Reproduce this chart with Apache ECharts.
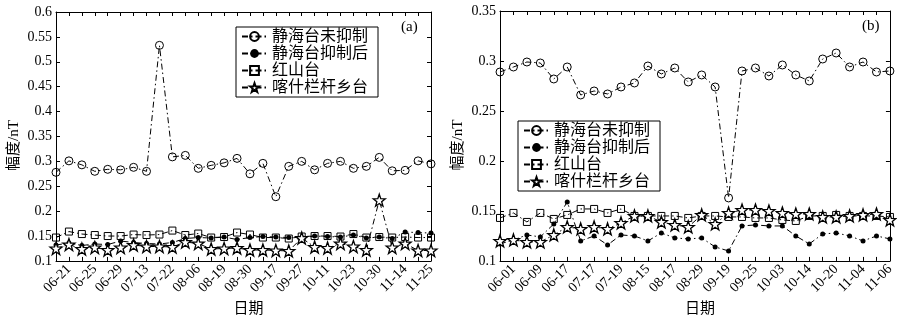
<!DOCTYPE html>
<html><head><meta charset="utf-8">
<script src="https://cdn.jsdelivr.net/npm/echarts@6/dist/echarts.min.js"></script>
<style>html,body{margin:0;padding:0;background:#fff}#c{width:897px;height:322px}</style>
</head><body><div id="c"></div>
<script>
const seriesNames = ['静海台未抑制', '静海台抑制后', '红山台', '喀什栏杆乡台'];

// Panel (a): 30 observations, date labels shown at every other observation
const tickLabelsA = ['06-21','06-25','06-29','07-13','07-22','08-06','08-19','08-30','09-17','09-27','10-11','10-23','10-30','11-14','11-25'];
const jhRawA  = [0.278,0.301,0.293,0.280,0.284,0.283,0.288,0.280,0.533,0.309,0.312,0.286,0.292,0.297,0.306,0.275,0.296,0.229,0.290,0.300,0.283,0.296,0.300,0.286,0.290,0.308,0.281,0.282,0.301,0.295];
const jhSupA  = [0.132,0.136,0.131,0.134,0.133,0.140,0.137,0.135,0.134,0.137,0.145,0.147,0.146,0.148,0.143,0.147,0.149,0.148,0.147,0.146,0.150,0.149,0.148,0.152,0.146,0.148,0.145,0.158,0.157,0.156];
const hsA     = [0.147,0.159,0.154,0.152,0.150,0.150,0.153,0.152,0.153,0.161,0.152,0.155,0.147,0.148,0.157,0.153,0.147,0.147,0.145,0.149,0.150,0.150,0.149,0.154,0.147,0.148,0.147,0.148,0.147,0.147];
const ksA     = [0.125,0.133,0.124,0.127,0.122,0.127,0.132,0.129,0.129,0.128,0.138,0.135,0.124,0.125,0.126,0.122,0.122,0.121,0.120,0.146,0.128,0.126,0.135,0.129,0.122,0.222,0.127,0.135,0.121,0.121];

// Panel (b)
const tickLabelsB = ['06-01','06-09','06-17','07-17','07-19','08-15','08-17','08-29','09-19','09-25','10-03','10-14','10-20','11-04','11-06'];
const jhRawB  = [0.289,0.294,0.299,0.298,0.282,0.294,0.266,0.270,0.267,0.274,0.278,0.295,0.287,0.293,0.279,0.286,0.274,0.163,0.290,0.293,0.285,0.296,0.286,0.280,0.302,0.308,0.294,0.299,0.289,0.290];
const jhSupB  = [0.117,0.121,0.126,0.124,0.137,0.159,0.120,0.125,0.116,0.126,0.125,0.120,0.128,0.123,0.122,0.123,0.114,0.110,0.135,0.136,0.135,0.135,0.125,0.117,0.127,0.128,0.125,0.120,0.125,0.122];
const hsB     = [0.143,0.148,0.139,0.148,0.142,0.146,0.152,0.152,0.148,0.152,0.145,0.145,0.145,0.145,0.143,0.145,0.145,0.144,0.144,0.143,0.143,0.141,0.140,0.145,0.145,0.146,0.145,0.145,0.145,0.144];
const ksB     = [0.120,0.121,0.119,0.119,0.126,0.134,0.132,0.134,0.132,0.138,0.145,0.145,0.139,0.136,0.134,0.146,0.137,0.148,0.151,0.151,0.150,0.148,0.147,0.147,0.144,0.144,0.145,0.146,0.147,0.141];

function buildCats(labels, n) {
  const c = [];
  for (let i = 0; i < n; i++) c.push(i % 2 === 1 ? labels[(i - 1) / 2] : '');
  return c;
}
const catsA = buildCats(tickLabelsA, jhRawA.length);
const catsB = buildCats(tickLabelsB, jhRawB.length);

const SERIF = "'Liberation Serif', 'Times New Roman', 'Noto Sans CJK SC', serif";
const CJK = "'Liberation Serif', 'Noto Sans CJK SC', serif";
const STAR = 'path://M0,-10 L2.35,-3.24 L9.51,-3.09 L3.8,1.24 L5.88,8.09 L0,4 L-5.88,8.09 L-3.8,1.24 L-9.51,-3.09 L-2.35,-3.24 Z';
const DASHDOT = [6, 3, 1.5, 3];

function mkSeries(xi, yi, data) {
  const common = {type: 'line', xAxisIndex: xi, yAxisIndex: yi, silent: true, animation: false, z: 3,
                  showSymbol: true, showAllSymbol: true};
  return [
    Object.assign({}, common, {name: seriesNames[0], data: data[0], symbol: 'circle', symbolSize: 8,
      lineStyle: {color: '#000', width: 1, type: DASHDOT},
      itemStyle: {color: 'rgba(0,0,0,0)', borderColor: '#000', borderWidth: 1}}),
    Object.assign({}, common, {name: seriesNames[1], data: data[1], symbol: 'circle', symbolSize: 5,
      lineStyle: {color: '#000', width: 1, type: DASHDOT},
      itemStyle: {color: '#000', borderColor: '#000', borderWidth: 0}}),
    Object.assign({}, common, {name: seriesNames[2], data: data[2], symbol: 'rect', symbolSize: 7,
      lineStyle: {color: '#000', width: 1, type: DASHDOT},
      itemStyle: {color: 'rgba(0,0,0,0)', borderColor: '#000', borderWidth: 1}}),
    Object.assign({}, common, {name: seriesNames[3], data: data[3], symbol: STAR, symbolSize: 12,
      lineStyle: {color: '#000', width: 1, type: DASHDOT},
      itemStyle: {color: '#fff', borderColor: '#000', borderWidth: 1.3}})
  ];
}

function xAxes(gi, cats, nameGap) {
  return [
    {type: 'category', gridIndex: gi, data: cats, boundaryGap: false, position: 'bottom',
     name: '日期', nameLocation: 'middle', nameGap: nameGap,
     nameTextStyle: {fontFamily: CJK, fontSize: 15, color: '#000', padding: [0, 0, 0, 10]},
     axisLine: {lineStyle: {color: '#000', width: 1}},
     axisTick: {inside: true, length: 4, interval: 0, lineStyle: {color: '#000'}},
     axisLabel: {interval: (i) => i % 2 === 1, rotate: 45, margin: 6, fontFamily: SERIF, fontSize: 14, color: '#000'},
     splitLine: {show: false}},
    {type: 'category', gridIndex: gi, data: cats, boundaryGap: false, position: 'top',
     axisLine: {lineStyle: {color: '#000', width: 1}},
     axisTick: {inside: true, length: 4, interval: 0, lineStyle: {color: '#000'}},
     axisLabel: {show: false}, splitLine: {show: false}}
  ];
}
function yAxes(gi, min, max) {
  return [
    {type: 'value', gridIndex: gi, min: min, max: max, interval: 0.05, position: 'left',
     name: '幅度/nT', nameLocation: 'middle', nameGap: 34, nameRotate: 90,
     nameTextStyle: {fontFamily: CJK, fontSize: 15, color: '#000', padding: [0, 18, 0, 0]},
     axisLine: {show: true, lineStyle: {color: '#000', width: 1}},
     axisTick: {show: true, inside: true, length: 4, lineStyle: {color: '#000'}},
     axisLabel: {margin: 4, fontFamily: SERIF, fontSize: 14, color: '#000'},
     splitLine: {show: false}},
    {type: 'value', gridIndex: gi, min: min, max: max, interval: 0.05, position: 'right',
     axisLine: {show: true, lineStyle: {color: '#000', width: 1}},
     axisTick: {show: true, inside: true, length: 4, lineStyle: {color: '#000'}},
     axisLabel: {show: false}, splitLine: {show: false}}
  ];
}

function legendAt(left, top) {
  return {
    left: left, top: top, orient: 'vertical', data: seriesNames,
    backgroundColor: '#fff', borderColor: '#000', borderWidth: 1, borderRadius: 0,
    padding: [1, 10, 1, 5], itemGap: 0, itemWidth: 25, itemHeight: 11,
    selectedMode: false,
    textStyle: {fontFamily: CJK, fontSize: 16, lineHeight: 17, color: '#000'}
  };
}

const chart = echarts.init(document.getElementById('c'), null, {renderer: 'canvas'});
chart.setOption({
  animation: false,
  backgroundColor: '#fff',
  title: [
    {text: '(a)', left: 401, top: 20, textStyle: {fontFamily: SERIF, fontSize: 15, fontWeight: 'normal', color: '#000'}, padding: 0},
    {text: '(b)', left: 862, top: 19, textStyle: {fontFamily: SERIF, fontSize: 15, fontWeight: 'normal', color: '#000'}, padding: 0}
  ],
  legend: [legendAt(236, 27), legendAt(518, 121)],
  grid: [
    {left: 56, right: 466, top: 12, bottom: 56, containLabel: false},
    {left: 500, right: 6, top: 11, bottom: 58, containLabel: false}
  ],
  xAxis: xAxes(0, catsA, 39).concat(xAxes(1, catsB, 41)),
  yAxis: yAxes(0, 0.1, 0.6).concat(yAxes(1, 0.1, 0.35)),
  series: mkSeries(0, 0, [jhRawA, jhSupA, hsA, ksA]).concat(mkSeries(2, 2, [jhRawB, jhSupB, hsB, ksB]))
});
</script></body></html>
